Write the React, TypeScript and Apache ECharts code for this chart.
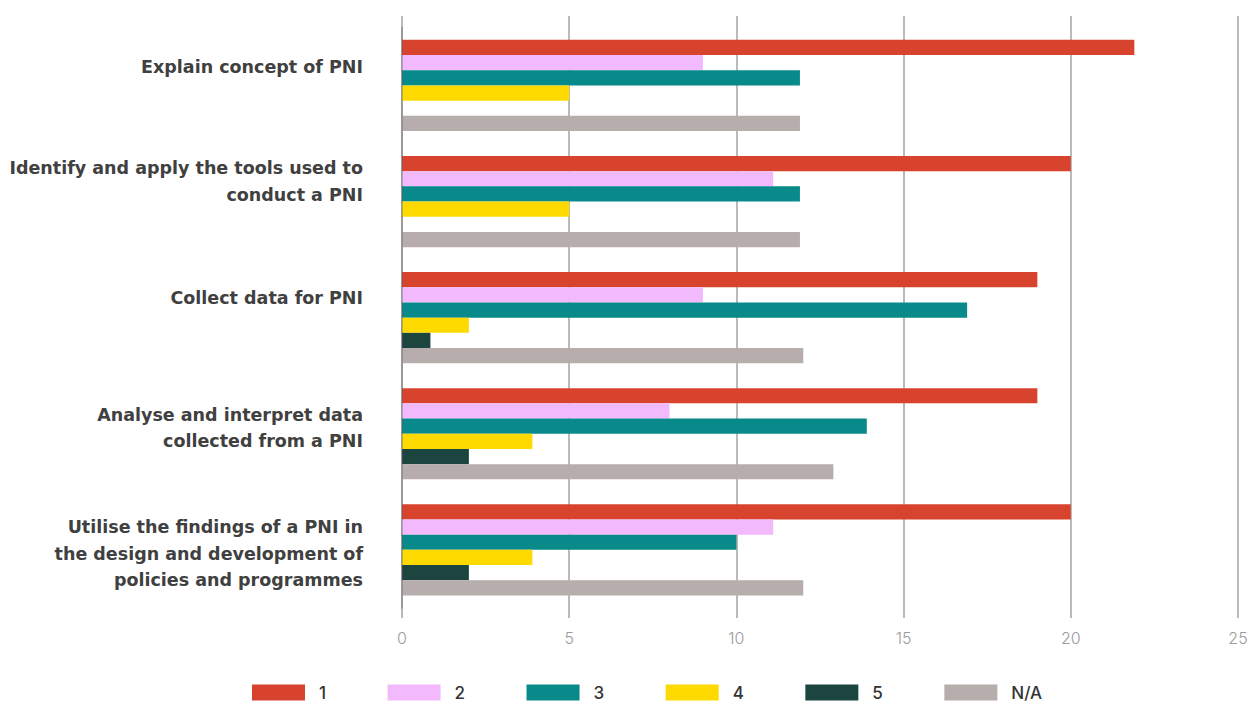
import { useEffect, useRef } from "react";
import * as echarts from "echarts";

// Survey topics (top to bottom)
const categories = [
  "Explain concept of PNI",
  "Identify and apply the tools used to\nconduct a PNI",
  "Collect data for PNI",
  "Analyse and interpret data\ncollected from a PNI",
  "Utilise the findings of a PNI in\nthe design and development of\npolicies and programmes",
];

// Rating levels shown in the legend
const ratingNames = ["1", "2", "3", "4", "5", "N/A"];

// Responses per rating, one value per topic
const rating1 = [21.9, 20, 19, 19, 20];
const rating2 = [9, 11.1, 9, 8, 11.1];
const rating3 = [11.9, 11.9, 16.9, 13.9, 10];
const rating4 = [5, 5, 2, 3.9, 3.9];
const rating5 = [0, 0, 0.85, 2, 2];
const ratingNA = [11.9, 11.9, 12, 12.9, 12];

// Value axis range
const axisMin = 0;
const axisMax = 25;
const axisStep = 5;

const ratingValues = [rating1, rating2, rating3, rating4, rating5, ratingNA];
const ratingColors = ["#d8432e", "#f2b9fd", "#088a8a", "#ffda00", "#1c4540", "#b6adac"];

// vertical nudge (px) for each topic label, negative = up
const labelNudge = [-18, -20, -20, -6, 4];

const LABEL_FONT = "'DejaVu Sans', 'Open Sans', sans-serif";
const TICK_FONT = "Inter, 'Noto Sans', sans-serif";

export default function App() {
  const ref = useRef<HTMLDivElement>(null);

  useEffect(() => {
    if (!ref.current) return;
    const chart = echarts.init(ref.current, undefined, { renderer: "svg" });

    // spacer lines (rich text) shift each topic label up or down
    const rich: Record<string, object> = {};
    labelNudge.forEach((n, i) => {
      rich["sp" + i] = { lineHeight: Math.max(1, Math.abs(2 * n)), fontSize: 1 };
    });
    const formatLabel = (value: string, index: number) => {
      const n = labelNudge[index] || 0;
      if (n < 0) return value + "\n{sp" + index + "| }";
      if (n > 0) return "{sp" + index + "| }\n" + value;
      return value;
    };

    const option: echarts.EChartsCoreOption = {
      animation: false,
      backgroundColor: "#ffffff",
      grid: [
        { left: 402, right: 13, top: 16, bottom: 84 },
        { left: 402, right: 13, top: 27.4, height: 580.5 },
      ],
      xAxis: [
        {
          gridIndex: 0,
          type: "value",
          min: axisMin,
          max: axisMax,
          interval: axisStep,
          axisLine: { show: false },
          axisTick: { show: false },
          splitLine: { show: true, lineStyle: { color: "#a3a3a3", width: 1.5 } },
          axisLabel: {
            color: "#9b9b9b",
            fontFamily: TICK_FONT,
            fontWeight: 300,
            fontSize: 16,
            margin: 12,
          },
        },
        {
          gridIndex: 1,
          type: "value",
          min: axisMin,
          max: axisMax,
          interval: axisStep,
          show: false,
          splitLine: { show: false },
        },
      ],
      yAxis: [
        {
          gridIndex: 0,
          type: "category",
          data: categories,
          show: false,
        },
        {
          gridIndex: 1,
          type: "category",
          inverse: true,
          data: categories,
          axisLine: { show: true, lineStyle: { color: "rgba(90,90,90,0.45)", width: 1.5 } },
          axisTick: { show: false },
          splitLine: { show: false },
          axisLabel: {
            color: "#404040",
            fontFamily: LABEL_FONT,
            fontWeight: "bold",
            fontSize: 17.5,
            lineHeight: 26.5,
            align: "right",
            margin: 39,
            formatter: formatLabel,
            rich,
          },
          z: 5,
        },
      ],
      legend: {
        left: 252,
        top: 684,
        padding: 0,
        itemWidth: 53,
        itemHeight: 16,
        itemGap: 61.5,
        icon: "rect",
        data: ratingNames,
        textStyle: {
          color: "#333333",
          fontFamily: TICK_FONT,
          fontSize: 17,
          fontWeight: 500,
          padding: [2, 0, 0, 9],
        },
      },
      series: ratingNames.map((name, i) => ({
        name,
        type: "bar",
        xAxisIndex: 1,
        yAxisIndex: 1,
        barWidth: 15.2,
        barGap: "0%",
        itemStyle: { color: ratingColors[i] },
        data: ratingValues[i],
      })),
    };

    chart.setOption(option);
    return () => chart.dispose();
  }, []);

  return (
    <div
      ref={ref}
      style={{ position: "fixed", left: 0, top: 0, width: 1251, height: 702 }}
    />
  );
}
